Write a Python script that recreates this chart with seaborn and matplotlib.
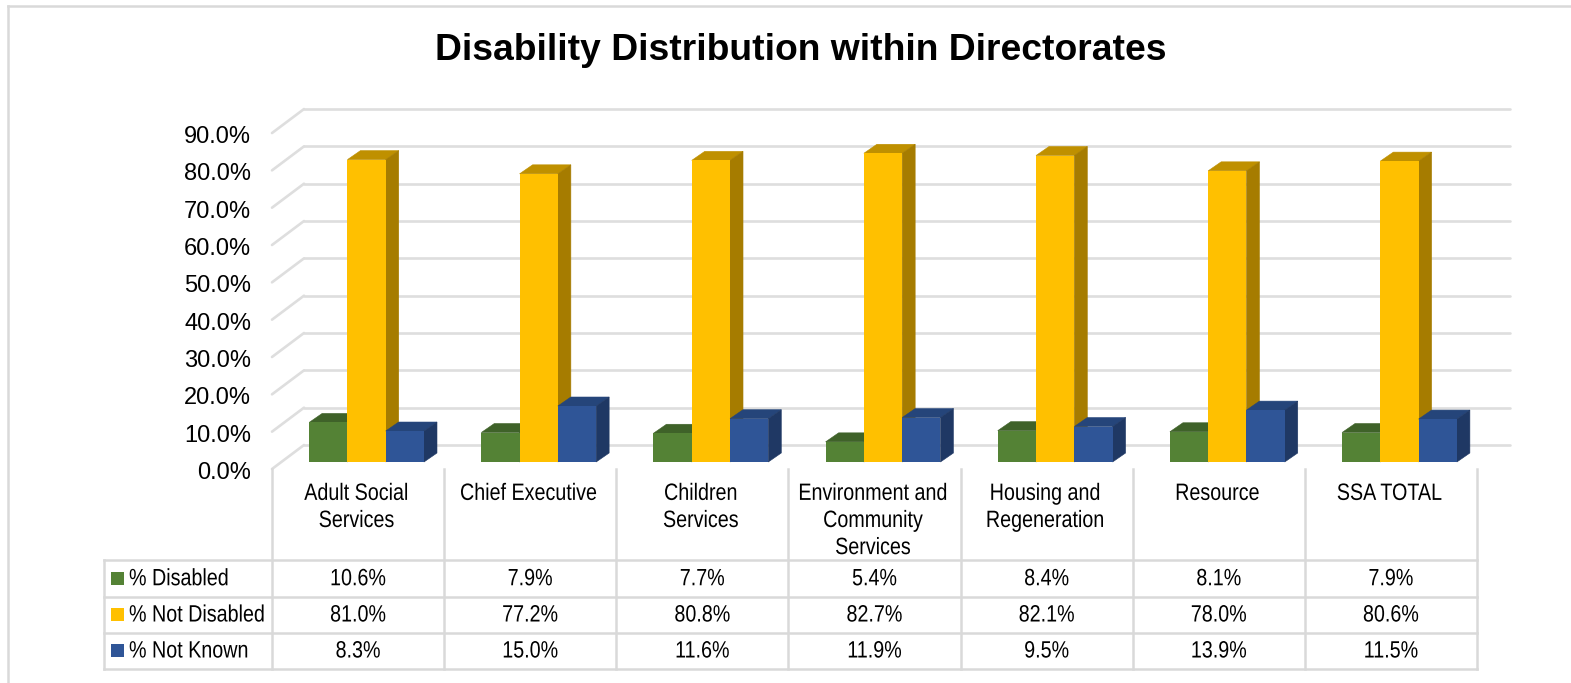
import matplotlib
matplotlib.use("Agg")
import matplotlib.pyplot as plt
from matplotlib.lines import Line2D
from matplotlib.patches import Rectangle
from matplotlib.patheffects import AbstractPathEffect
from matplotlib.transforms import Affine2D, ScaledTranslation
import pandas as pd
import seaborn as sns

# ---- data ----
directorates = ["Adult Social\nServices", "Chief Executive", "Children\nServices",
                "Environment and\nCommunity\nServices", "Housing and\nRegeneration",
                "Resource", "SSA TOTAL"]
series_names = ["% Disabled", "% Not Disabled", "% Not Known"]
disabled = [10.6, 7.9, 7.7, 5.4, 8.4, 8.1, 7.9]
not_disabled = [81.0, 77.2, 80.8, 82.7, 82.1, 78.0, 80.6]
not_known = [8.3, 15.0, 11.6, 11.9, 9.5, 13.9, 11.5]
value_ticks = [0, 10, 20, 30, 40, 50, 60, 70, 80, 90]

# ---- styling ----
front_colors = ["#548235", "#FFC000", "#2F5597"]
top_colors = ["#3F6229", "#BF9000", "#25457A"]
side_colors = ["#38571F", "#A67C00", "#1F3864"]
grid_color = "#DEDEDE"
table_color = "#D9D9D9"
text_color = "#000000"
FONT = ["Liberation Sans", "DejaVu Sans"]

W, H, DPI = 1571, 683, 100
PX_PER_UNIT = 3.733
CAT_W = 172.15
TABLE_X0 = 272
NARROW_FACTOR = 0.835

sns.set_theme(style="white")
plt.rcParams["font.family"] = FONT

fig = plt.figure(figsize=(W / DPI, H / DPI), dpi=DPI, facecolor="white")


class NarrowText(AbstractPathEffect):
    """Condense a text horizontally about its anchor, as no narrow face is installed."""

    def __init__(self, text, factor):
        super().__init__()
        self.text = text
        self.factor = factor

    def draw_path(self, renderer, gc, tpath, affine, rgbFace=None):
        box = self.text.get_window_extent(renderer)
        anchor = box.x0 if self.text.get_ha() == "left" else (box.x0 + box.x1) / 2
        squeeze = Affine2D().translate(-anchor, 0).scale(self.factor, 1).translate(anchor, 0)
        renderer.draw_path(gc, tpath, affine + squeeze, rgbFace)


def narrow(text):
    text.set_path_effects([NarrowText(text, NARROW_FACTOR)])
    return text


def axes_rect(left, baseline):
    """Axes rectangle in pixels: seven categories wide, 0-90 % tall."""
    height = PX_PER_UNIT * 90
    return [left / W, (H - baseline) / H, CAT_W * 7 / W, height / H]


def fx(x):
    return x / W


def fy(y):
    return 1 - y / H


# Front plane of the floor and wall: carries tick labels and the perspective grid.
ax_wall = fig.add_axes(axes_rect(TABLE_X0, 469))
ax_wall.set_xlim(-0.5, 6.5)
ax_wall.set_ylim(0, 90)
ax_wall.patch.set_alpha(0)
sns.despine(ax=ax_wall, left=True, bottom=True)
ax_wall.set_yticks(value_ticks, [f"{v:.1f}%" for v in value_ticks])
ax_wall.tick_params(axis="y", length=0, pad=15, labelsize=17, labelcolor=text_color)
for lab in ax_wall.get_yticklabels():
    lab.set_transform(lab.get_transform() + ScaledTranslation(0, -1.5 / DPI, fig.dpi_scale_trans))
ax_wall.set_xticks(range(len(directorates)), directorates)
ax_wall.tick_params(axis="x", length=0, pad=10, labelsize=17, labelcolor=text_color)
for lab in ax_wall.get_xticklabels():
    narrow(lab)
    lab.set_transform(lab.get_transform() + ScaledTranslation(-1.5 / DPI, 0, fig.dpi_scale_trans))
    lab.set_linespacing(1.3)
    lab.set_va("top")

wall_dx = 32 / CAT_W
wall_dy = 24 / PX_PER_UNIT
wall_right = -0.5 + 1238 / CAT_W
for v in value_ticks:
    ax_wall.plot([-0.5, -0.5 + wall_dx], [v, v + wall_dy], color=grid_color, lw=1.9,
                 clip_on=False, solid_capstyle="round", zorder=1)
    ax_wall.plot([-0.5 + wall_dx, wall_right], [v + wall_dy, v + wall_dy], color=grid_color,
                 lw=1.9, clip_on=False, zorder=1)

# Bars: seaborn draws the front faces, the depth faces are added from the same heights.
ax = fig.add_axes(axes_rect(TABLE_X0 + 8.5, 462))
ax.patch.set_alpha(0)
df = pd.DataFrame({
    "directorate": directorates * 3,
    "series": [n for n in series_names for _ in directorates],
    "value": disabled + not_disabled + not_known,
})
sns.barplot(data=df, x="directorate", y="value", hue="series", hue_order=series_names,
            palette=front_colors, width=0.667, gap=0, saturation=1, legend=False,
            dodge=True, linewidth=0, ax=ax)
ax.set_xlim(-0.5, 6.5)
ax.set_ylim(0, 90)
ax.axis("off")

bar_dx = 13 / CAT_W
bar_dy = 9 / PX_PER_UNIT
for s, container in enumerate(ax.containers):
    z = 3 + s
    for bar in container:
        bar.set_zorder(z + 0.5)
        bar.set_clip_on(False)
        x0, w, h = bar.get_x(), bar.get_width(), bar.get_height()
        x1 = x0 + w
        ax.fill([x0, x0 + bar_dx, x1 + bar_dx, x1], [h, h + bar_dy, h + bar_dy, h],
                color=top_colors[s], lw=0.4, zorder=z, clip_on=False)
        ax.fill([x1, x1 + bar_dx, x1 + bar_dx, x1], [0, bar_dy, h + bar_dy, h],
                color=side_colors[s], lw=0.4, zorder=z, clip_on=False)

# Data table underneath the plot.
col_edges = [TABLE_X0 + CAT_W * i for i in range(8)]
row_edges = [560, 596.5, 632.5, 668.5]
table_left = 104


def rule(x0, y0, x1, y1, color=table_color, lw=1.8):
    fig.add_artist(Line2D([fx(x0), fx(x1)], [fy(y0), fy(y1)], color=color, lw=lw,
                          solid_capstyle="projecting"))


for y in row_edges:
    rule(table_left, y, col_edges[-1], y)
for x in col_edges:
    rule(x, 469, x, row_edges[-1])
rule(table_left, row_edges[0], table_left, row_edges[-1])

rows = [disabled, not_disabled, not_known]
for r, (name, values) in enumerate(zip(series_names, rows)):
    y_mid = (row_edges[r] + row_edges[r + 1]) / 2
    fig.add_artist(Rectangle((fx(111), fy(y_mid + 6.5)), 13 / W, 13 / H, color=front_colors[r],
                             lw=0, transform=fig.transFigure))
    narrow(fig.text(fx(129), fy(y_mid + 1), name, fontsize=17, color=text_color,
                    va="center", ha="left"))
    for c, v in enumerate(values):
        narrow(fig.text(fx((col_edges[c] + col_edges[c + 1]) / 2), fy(y_mid + 1), f"{v:.1f}%",
                        fontsize=17, color=text_color, va="center", ha="center"))

# Title and chart frame.
fig.text(fx(800.5), fy(51), "Disability Distribution within Directorates", fontsize=26.8,
         fontweight="bold", color=text_color, ha="center", va="center")
rule(8, 6, W, 6)
rule(8, 6, 8, H)

fig.savefig("out.png", dpi=DPI, facecolor="white")
